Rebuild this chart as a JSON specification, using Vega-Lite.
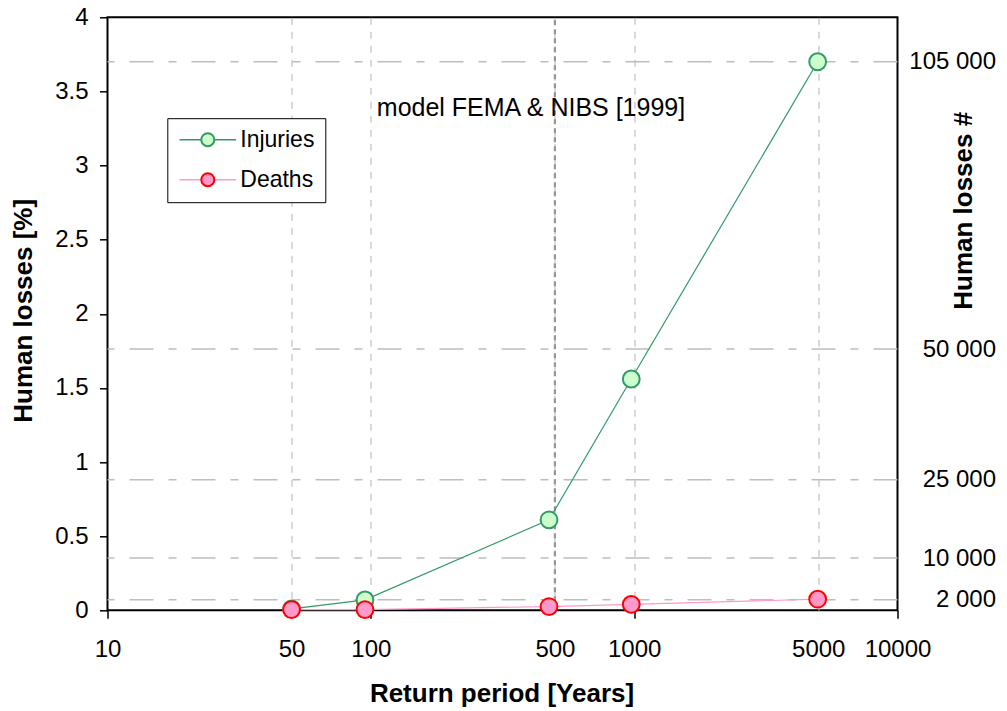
{
  "$schema": "https://vega.github.io/schema/vega-lite/v6.json",
  "width": 790,
  "height": 593,
  "autosize": "none",
  "padding": {"left": 107.5, "top": 17.3, "right": 109.5, "bottom": 101},
  "background": "white",
  "config": {
    "font": "Liberation Sans",
    "view": {"stroke": "black", "strokeWidth": 2},
    "axis": {
      "labelFont": "Liberation Sans",
      "titleFont": "Liberation Sans",
      "labelColor": "black",
      "titleColor": "black",
      "labelFontSize": 24,
      "titleFontSize": 26,
      "titleFontWeight": "bold",
      "domain": false,
      "tickColor": "black",
      "tickWidth": 1.5,
      "tickSize": 8,
      "gridColor": "#b3b3b3",
      "gridDash": [7, 7],
      "gridWidth": 1,
      "labelOverlap": false,
      "labelFlush": false
    }
  },
  "datasets": {
    "losses": [
      {"series": "Injuries", "period": 50, "pct": 0.01},
      {"series": "Injuries", "period": 95, "pct": 0.07},
      {"series": "Injuries", "period": 475, "pct": 0.61},
      {"series": "Injuries", "period": 975, "pct": 1.56},
      {"series": "Injuries", "period": 4975, "pct": 3.7},
      {"series": "Deaths", "period": 50, "pct": 0.005},
      {"series": "Deaths", "period": 95, "pct": 0.005},
      {"series": "Deaths", "period": 475, "pct": 0.025},
      {"series": "Deaths", "period": 975, "pct": 0.04},
      {"series": "Deaths", "period": 4975, "pct": 0.075}
    ],
    "headcount": [
      {"people": 2000},
      {"people": 10000},
      {"people": 25000},
      {"people": 50000},
      {"people": 105000}
    ]
  },
  "layer": [
    {
      "data": {"name": "headcount"},
      "mark": {"type": "rule", "stroke": "#bdbdbd", "strokeWidth": 1.5, "strokeDash": [24, 15, 8, 15]},
      "encoding": {
        "y": {
          "field": "people",
          "type": "quantitative",
          "scale": {"domain": [0, 113500], "nice": false, "zero": true},
          "axis": {
            "orient": "right",
            "values": [2000, 10000, 25000, 50000, 105000],
            "labelExpr": "replace(format(datum.value, ','), ',', ' ')",
            "ticks": false,
            "tickSize": 0,
            "grid": false,
            "labelAlign": "right",
            "labelBaseline": "middle",
            "labelPadding": 98,
            "title": "Human losses #",
            "titleAngle": 270,
            "titleX": 66.5,
            "titleY": 193,
            "titleAlign": "center",
            "titleBaseline": "middle"
          }
        }
      }
    },
    {
      "data": {"name": "losses"},
      "encoding": {
        "x": {
          "field": "period",
          "type": "quantitative",
          "scale": {"type": "log", "domain": [10, 10000], "nice": false},
          "axis": {
            "values": [10, 50, 100, 500, 1000, 5000, 10000],
            "format": "d",
            "labelPadding": 19,
            "gridOpacity": {"condition": {"test": "datum.value == 10 || datum.value == 10000", "value": 0}, "value": 1},
            "tickOpacity": {"condition": {"test": "datum.value == 10 || datum.value == 100 || datum.value == 1000 || datum.value == 10000", "value": 1}, "value": 0},
            "title": "Return period [Years]",
            "titleX": 394,
            "titleY": 83,
            "titleAlign": "center",
            "titleBaseline": "middle"
          }
        },
        "y": {
          "field": "pct",
          "type": "quantitative",
          "scale": {"domain": [0, 4], "nice": false, "zero": true},
          "axis": {
            "orient": "left",
            "values": [0, 0.5, 1, 1.5, 2, 2.5, 3, 3.5, 4],
            "format": "~g",
            "labelPadding": 11.5,
            "gridOpacity": {"condition": {"test": "datum.value == 0 || datum.value == 4", "value": 0}, "value": 1},
            "title": "Human losses [%]",
            "titleAngle": 270,
            "titleX": -84.5,
            "titleY": 293,
            "titleAlign": "center",
            "titleBaseline": "middle"
          }
        }
      },
      "layer": [
        {
          "data": {"values": [{"period": 500, "lo": 0, "hi": 4}]},
          "mark": {"type": "rule", "stroke": "#969696", "strokeWidth": 2.2, "strokeDash": [5, 4]},
          "encoding": {
            "y": {"field": "lo", "type": "quantitative"},
            "y2": {"field": "hi"}
          }
        },
        {
          "mark": {"type": "line", "strokeWidth": 1.2},
          "encoding": {
            "stroke": {
              "field": "series",
              "type": "nominal",
              "scale": {"domain": ["Injuries", "Deaths"], "range": ["#339966", "#ff99cc"]},
              "legend": {
                "title": null,
                "orient": "none",
                "legendX": 59.8,
                "legendY": 100.9,
                "symbolType": "M-2.83,0H2.83",
                "symbolSize": 400,
                "symbolStrokeWidth": 1.5,
                "symbolOffset": 19,
                "labelFont": "Liberation Sans",
                "labelFontSize": 23,
                "labelColor": "black",
                "padding": 10,
                "rowPadding": 16,
                "labelOffset": 21,
                "fillColor": "white",
                "strokeColor": "black",
                "zindex": 1
              }
            }
          }
        },
        {
          "mark": {"type": "point", "filled": true, "size": 283, "strokeWidth": 2, "opacity": 1},
          "encoding": {
            "fill": {
              "field": "series",
              "type": "nominal",
              "scale": {"domain": ["Injuries", "Deaths"], "range": ["#ccffcc", "#ff99cc"]},
              "legend": null
            },
            "stroke": {
              "field": "series",
              "type": "nominal",
              "scale": {"domain": ["Injuries", "Deaths"], "range": ["#339966", "#ff0000"]},
              "legend": {
                "title": null,
                "orient": "none",
                "legendX": 59.8,
                "legendY": 100.9,
                "symbolType": "M-2.83,0M2.83,0M0.65,0A0.65,0.65,0,1,1,-0.65,0A0.65,0.65,0,1,1,0.65,0Z",
                "symbolSize": 400,
                "symbolStrokeWidth": 2,
                "symbolOpacity": 1,
                "symbolFillColor": {"expr": "datum.value === 'Deaths' ? '#ff99cc' : '#ccffcc'"},
                "symbolOffset": 19,
                "labelFont": "Liberation Sans",
                "labelFontSize": 23,
                "labelOpacity": 0,
                "padding": 10,
                "rowPadding": 16,
                "labelOffset": 21,
                "zindex": 2
              }
            }
          }
        },
        {
          "data": {"values": [{"period": 100, "pct": 3.39, "note": "model FEMA & NIBS [1999]"}]},
          "mark": {"type": "text", "align": "left", "baseline": "middle", "dx": 6, "font": "Liberation Sans", "fontSize": 25, "color": "black"},
          "encoding": {
            "text": {"field": "note", "type": "nominal"}
          }
        }
      ],
      "resolve": {"scale": {"stroke": "independent"}}
    }
  ],
  "resolve": {"scale": {"y": "independent"}}
}
